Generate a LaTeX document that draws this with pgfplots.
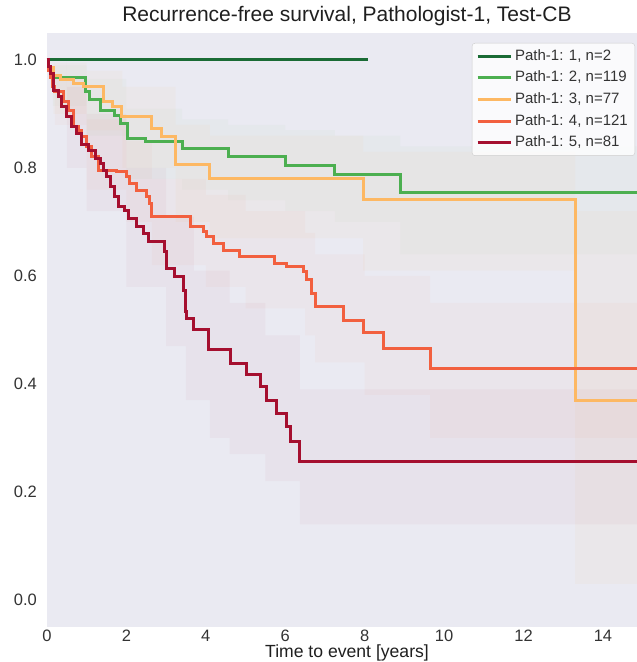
\documentclass[border=0pt]{standalone}
\usepackage{fontspec}
\setmainfont{Liberation Sans}
\usepackage{pgfplots}
\pgfplotsset{compat=1.18}
\usepgfplotslibrary{fillbetween}
\definecolor{bg}{HTML}{EAEAF2}
\definecolor{cA}{HTML}{1A6B35}
\definecolor{cB}{HTML}{4CAF50}
\definecolor{cC}{HTML}{FDB863}
\definecolor{cD}{HTML}{F2603F}
\definecolor{cE}{HTML}{A50F2F}
\definecolor{tk}{HTML}{333333}
\begin{document}
\begin{tikzpicture}
\begin{axis}[
  scale only axis, width=600pt, height=594pt,
  xmin=0, xmax=15.11, ymin=-0.05, ymax=1.05,
  axis background/.style={fill=bg},
  axis line style={draw=none},
  major tick length=0pt,
  xtick={0,2,4,6,8,10,12,14},
  xticklabels={0,2,4,6,8,10,12,14},
  ytick={0,0.2,0.4,0.6,0.8,1.0},
  yticklabels={0.0,0.2,0.4,0.6,0.8,1.0},
  tick label style={font=\fontsize{16.5}{19}\selectfont, text=tk},
  xticklabel style={anchor=north, inner sep=0pt, yshift=-2.5pt},
  yticklabel style={anchor=east, inner sep=0pt, xshift=-10pt},
  title={Recurrence-free survival, Pathologist-1, Test-CB},
  title style={font=\fontsize{21}{25}\selectfont, text=black!88, at={(axis description cs:0.5,1)}, anchor=base, yshift=5pt},
  xlabel={Time to event [years]},
  xlabel style={font=\fontsize{17.6}{21}\selectfont, text=black!88, inner sep=0pt, at={(axis description cs:0.5,0)}, anchor=base, yshift=-30pt},
  legend style={at={(axis description cs:1,1)}, anchor=north east, xshift=-12pt, yshift=-10pt,
    fill=white, fill opacity=0.8, text opacity=1, draw=black!20, rounded corners=3pt,
    font=\fontsize{15}{18}\selectfont, text=tk, inner xsep=4pt, inner ysep=2pt,
    nodes={text height=11pt, text depth=3pt, inner ysep=3.85pt, inner xsep=3pt}},
  legend cell align=left,
  legend image code/.code={\draw[#1] (0pt,0pt) -- (33pt,0pt);},
]
% ---- confidence bands ----
\addplot[name path=u2, draw=none, const plot, forget plot] coordinates {(0,1) (0.15,0.99) (1,0.965) (2,0.91) (3.4,0.89) (4.56,0.88) (6,0.87) (7.25,0.86) (8.9,0.84) (15.2,0.84)};
\addplot[name path=l2, draw=none, const plot, forget plot] coordinates {(0,1) (0.15,0.915) (1,0.86) (2,0.78) (3.4,0.76) (4.56,0.74) (6,0.72) (7.25,0.70) (8.9,0.64) (15.2,0.64)};
\addplot[cB, fill opacity=0.03, forget plot] fill between[of=u2 and l2];
\addplot[name path=u3, draw=none, const plot, forget plot] coordinates {(0,1) (0.16,0.995) (1,0.98) (1.9,0.95) (3.24,0.88) (4.1,0.86) (7.96,0.83) (13.3,0.72) (15.2,0.72)};
\addplot[name path=l3, draw=none, const plot, forget plot] coordinates {(0,1) (0.16,0.90) (1,0.87) (1.9,0.80) (3.24,0.70) (4.1,0.67) (7.96,0.61) (13.3,0.03) (15.2,0.03)};
\addplot[cC, fill opacity=0.05, forget plot] fill between[of=u3 and l3];
\addplot[name path=u4, draw=none, const plot, forget plot] coordinates {(0,1) (0.2,0.97) (1,0.89) (2,0.85) (2.64,0.78) (4,0.75) (5,0.72) (6.5,0.68) (6.75,0.64) (8,0.60) (9.65,0.55) (15.2,0.55)};
\addplot[name path=l4, draw=none, const plot, forget plot] coordinates {(0,1) (0.2,0.88) (1,0.76) (2,0.70) (2.64,0.62) (4,0.58) (5,0.54) (6.5,0.49) (6.75,0.44) (8,0.38) (9.65,0.30) (15.2,0.30)};
\addplot[cD, fill opacity=0.035, forget plot] fill between[of=u4 and l4];
\addplot[name path=u5, draw=none, const plot, forget plot] coordinates {(0,1) (0.5,0.95) (1,0.90) (2,0.80) (3,0.71) (3.7,0.61) (4.6,0.55) (5.5,0.49) (6.37,0.39) (15.2,0.39)};
\addplot[name path=l5, draw=none, const plot, forget plot] coordinates {(0,1) (0.5,0.80) (1,0.72) (2,0.58) (3,0.47) (3.5,0.37) (4.1,0.30) (4.6,0.27) (5.5,0.22) (6.37,0.14) (15.2,0.14)};
\addplot[cE, fill opacity=0.035, forget plot] fill between[of=u5 and l5];
% ---- survival curves ----
\addplot[cA, line width=3pt, const plot] coordinates {(0,1) (8.08,1)};
\addlegendentry{Path-1: 1, n=2}
\addplot[cB, line width=3pt, const plot] coordinates {
(0,1) (0.05,0.983) (0.15,0.967) (0.96,0.941) (1.08,0.926) (1.34,0.907) (1.71,0.898) (1.84,0.883)
(2.02,0.855) (2.47,0.849) (3.40,0.837) (4.56,0.822) (6.0,0.805) (7.25,0.788) (8.89,0.754) (15.2,0.754)};
\addlegendentry{Path-1: 2, n=119}
\addplot[cC, line width=3pt, const plot] coordinates {
(0,1) (0.05,0.987) (0.16,0.972) (0.33,0.963) (0.66,0.957) (0.91,0.951) (1.43,0.923) (1.66,0.914)
(1.88,0.895) (2.62,0.874) (2.89,0.858) (3.24,0.806) (4.1,0.781) (7.96,0.741) (13.3,0.370) (15.2,0.370)};
\addlegendentry{Path-1: 3, n=77}
\addplot[cD, line width=3pt, const plot] coordinates {
(0,1) (0.05,0.98) (0.1,0.967) (0.15,0.95) (0.20,0.941) (0.41,0.923) (0.54,0.907) (0.66,0.877) (0.79,0.870)
(0.87,0.858) (1.00,0.839) (1.13,0.821) (1.29,0.796) (1.76,0.793) (2.01,0.784) (2.09,0.772)
(2.26,0.759) (2.51,0.747) (2.59,0.735) (2.64,0.710) (3.62,0.691) (3.94,0.682) (4.02,0.673)
(4.19,0.660) (4.44,0.648) (4.86,0.636) (5.72,0.624) (6.04,0.617) (6.46,0.608) (6.54,0.593)
(6.67,0.568) (6.75,0.543) (7.46,0.517) (7.97,0.495) (8.47,0.465) (9.65,0.429) (15.2,0.429)};
\addlegendentry{Path-1: 4, n=121}
\addplot[cE, line width=3pt, const plot] coordinates {
(0,1) (0.03,0.988) (0.08,0.975) (0.16,0.944) (0.29,0.932) (0.37,0.914) (0.50,0.895) (0.62,0.877)
(0.75,0.864) (0.87,0.843) (1.04,0.833) (1.21,0.818) (1.34,0.809) (1.42,0.796) (1.50,0.784)
(1.59,0.765) (1.71,0.747) (1.80,0.728) (1.96,0.722) (2.05,0.707) (2.26,0.691) (2.43,0.679)
(2.55,0.664) (2.95,0.645) (3.01,0.614) (3.20,0.599) (3.43,0.574) (3.48,0.534) (3.52,0.522)
(3.69,0.500) (4.06,0.463) (4.61,0.438) (5.03,0.417) (5.37,0.395) (5.53,0.370) (5.79,0.346)
(6.04,0.321) (6.12,0.293) (6.37,0.256) (15.2,0.256)};
\addlegendentry{Path-1: 5, n=81}
\end{axis}
\pgfresetboundingbox
\useasboundingbox (-47pt,-35pt) rectangle (590pt,627pt);
\end{tikzpicture}
\end{document}
